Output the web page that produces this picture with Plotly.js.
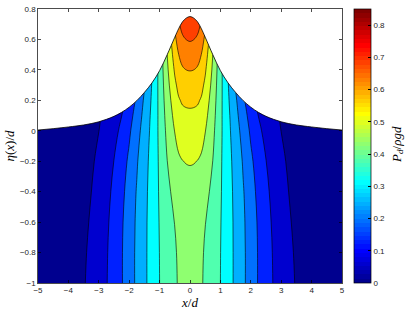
<!DOCTYPE html>
<html>
<head>
<meta charset="utf-8">
<script src="https://cdn.plot.ly/plotly-3.0.1.min.js"></script>
<style>html,body{margin:0;padding:0;background:#fff;}#chart{width:407px;height:312px;}</style>
</head>
<body>
<div id="chart"></div>
<script>
// ---- data (right half, x >= 0; the field is symmetric in x) ----
const xHalf = [0, 0.125, 0.25, 0.375, 0.5, 0.75, 1, 1.25, 1.5, 1.75, 2, 2.25, 2.5, 2.75, 3, 3.25, 3.5, 3.75, 4, 4.5, 5];
const yRows = [-1, -0.8, -0.6, -0.4, -0.2, 0, 0.1, 0.2, 0.3, 0.4, 0.5, 0.6, 0.7, 0.8];
// P_d/(rho g d) at (xHalf, yRows)
const pressureHalf = [
  [.462,.460,.454,.444,.426,.400,.375,.338,.300,.261,.222,.183,.150,.122,.099,.078,.058,.044,.034,.020,.011],
  [.463,.461,.456,.447,.430,.404,.376,.338,.300,.261,.222,.183,.149,.120,.095,.074,.055,.042,.033,.019,.010],
  [.469,.468,.463,.455,.439,.412,.378,.338,.299,.259,.219,.180,.146,.115,.089,.068,.051,.039,.031,.018,.009],
  [.482,.481,.477,.470,.455,.423,.381,.337,.296,.254,.212,.172,.138,.107,.081,.062,.047,.037,.029,.017,.008],
  [.503,.502,.499,.492,.476,.437,.384,.334,.290,.244,.199,.159,.126,.096,.072,.056,.043,.034,.027,.016,.007],
  [.533,.532,.529,.521,.502,.452,.388,.329,.278,.226,.178,.138,.107,.081,.062,.049,.039,.031,.025,.014,.005],
  [.552,.551,.548,.538,.517,.461,.389,.326,.269,.213,.164,.124,.094,.073,.057,.045,.037,.030,.024,.014,.005],
  [.574,.573,.569,.557,.533,.470,.391,.321,.259,.198,.147,.108,.080,.063,.051,.041,.035,.029,.023,.013,.004],
  [.599,.597,.592,.578,.551,.480,.393,.316,.245,.179,.128,.089,.064,.053,.046,.038,.032,.027,.022,.013,.004],
  [.627,.625,.618,.600,.570,.490,.395,.309,.229,.157,.105,.067,.046,.042,.040,.034,.030,.026,.021,.012,.003],
  [.658,.655,.646,.624,.590,.500,.397,.302,.210,.132,.079,.043,.025,.030,.034,.030,.028,.024,.020,.011,.002],
  [.692,.688,.676,.651,.612,.511,.399,.292,.187,.102,.050,.015,.003,.018,.028,.026,.026,.023,.019,.011,.002],
  [.730,.725,.710,.679,.634,.522,.401,.281,.160,.068,.016,-.016,-.023,.004,.021,.023,.024,.021,.018,.010,.001],
  [.771,.765,.746,.708,.658,.534,.404,.269,.129,.029,-.021,-.050,-.050,-.010,.015,.019,.021,.020,.017,.009,.001]
];
// free surface eta(x)/d at xHalf
const surfaceEta = [0.75,0.74,0.715,0.67,0.615,0.50,0.395,0.315,0.252,0.198,0.155,0.121,0.095,0.075,0.059,0.047,0.038,0.031,0.025,0.014,0.005];
const contourLevels = [0.0625, 0.125, 0.1875, 0.25, 0.3125, 0.375, 0.4375, 0.5, 0.5625, 0.625, 0.6875];
const xTicks = [-5,-4,-3,-2,-1,0,1,2,3,4,5];
const yTicks = [-1,-0.8,-0.6,-0.4,-0.2,0,0.2,0.4,0.6,0.8];
const cbarTicks = [0,0.1,0.2,0.3,0.4,0.5,0.6,0.7,0.8];
const cMin = 0, cMax = 0.85;

// ---- mirror the half tables to the full domain ----
const mirror = a => a.slice(1).reverse().concat(a);
const xFull = xHalf.slice(1).reverse().map(v => -v).concat(xHalf);
const zFull = pressureHalf.map(mirror);
const etaFull = mirror(surfaceEta);

// ---- MATLAB jet(64) colormap ----
function jet64() {
  const n = 64, m = 16, u = [];
  for (let j = 1; j <= m; j++) u.push(j / m);
  for (let j = 0; j < m - 1; j++) u.push(1);
  for (let j = m; j >= 1; j--) u.push(j / m);
  const cols = Array.from({length: n}, () => [0, 0, 0]);
  u.forEach((v, j) => {
    const gi = 8 + j + 1, ri = gi + m, bi = gi - m;
    if (gi >= 1 && gi <= n) cols[gi - 1][1] = v;
    if (ri >= 1 && ri <= n) cols[ri - 1][0] = v;
    if (bi >= 1 && bi <= n) cols[bi - 1][2] = v;
  });
  return cols.map(c => 'rgb(' + c.map(v => Math.round(v * 255)).join(',') + ')');
}
const jet = jet64();
const cbScale = [];
jet.forEach((c, i) => { cbScale.push([i / 64, c]); cbScale.push([(i + 1) / 64, c]); });

// band colours: each band takes the colour of its lower level (MATLAB contourf)
const bandLower = [0].concat(contourLevels);
const zTop = contourLevels[contourLevels.length - 1] + (contourLevels[1] - contourLevels[0]);
const nb = bandLower.length;
const bandScale = [];
bandLower.forEach((L, k) => {
  const idx = Math.min(63, Math.floor((L - cMin) / (cMax - cMin) * 64));
  bandScale.push([k / nb, jet[idx]]);
  bandScale.push([(k + 1) / nb, jet[idx]]);
});
const step = contourLevels[1] - contourLevels[0];

const traces = [
  {
    type: 'contour', x: xFull, y: yRows, z: zFull,
    zauto: false, zmin: 0, zmax: zTop,
    autocontour: false,
    contours: {start: contourLevels[0], end: contourLevels[contourLevels.length - 1], size: step, coloring: 'fill', showlines: true},
    line: {color: '#000', width: 0.6, smoothing: 1},
    colorscale: bandScale, showscale: false, hoverinfo: 'skip'
  },
  { // top edge for the white mask above the surface
    type: 'scatter', mode: 'lines', x: [-5, 5], y: [0.8, 0.8],
    line: {width: 0, color: 'rgba(0,0,0,0)'}, hoverinfo: 'skip', showlegend: false
  },
  { // free surface, white above it
    type: 'scatter', mode: 'lines', x: xFull, y: etaFull,
    fill: 'tonexty', fillcolor: '#ffffff',
    line: {color: '#000', width: 0.8, shape: 'spline', smoothing: 1},
    hoverinfo: 'skip', showlegend: false
  },
  { // colour bar carrier
    type: 'scatter', mode: 'markers', x: [-20], y: [-20],
    marker: {color: [0], cmin: cMin, cmax: cMax, colorscale: cbScale, showscale: true, size: 1,
      colorbar: {
        x: 1.04, xanchor: 'left', xpad: 0, ypad: 0, y: 0.5, yanchor: 'middle',
        len: 1, lenmode: 'fraction', thickness: 17, thicknessmode: 'pixels',
        outlinecolor: '#000', outlinewidth: 0.7,
        tickmode: 'array', tickvals: cbarTicks, ticktext: cbarTicks.map(String),
        ticks: 'inside', ticklen: 3, tickcolor: '#000',
        tickfont: {family: 'Liberation Sans, Arial, sans-serif', size: 8, color: '#262626'}
      }},
    hoverinfo: 'skip', showlegend: false
  }
];

const axisCommon = {
  showline: true, linecolor: '#000', linewidth: 0.7, mirror: 'ticks',
  ticks: 'inside', ticklen: 3, tickcolor: '#000', tickwidth: 0.7,
  showgrid: false, zeroline: false,
  tickfont: {family: 'Liberation Sans, Arial, sans-serif', size: 8, color: '#262626'}
};

const layout = {
  width: 407, height: 312,
  margin: {l: 38, r: 65, t: 9, b: 29, pad: 0},
  paper_bgcolor: '#fff', plot_bgcolor: '#fff',
  showlegend: false,
  xaxis: Object.assign({}, axisCommon, {
    range: [-5, 5], tickmode: 'array', tickvals: xTicks,
    title: {text: '<i>x</i>/<i>d</i>', font: {family: 'Liberation Serif, serif', size: 13, color: '#000'}, standoff: 3}
  }),
  yaxis: Object.assign({}, axisCommon, {
    range: [-1, 0.8], tickmode: 'array', tickvals: yTicks,
    title: {text: '<i>η</i>(<i>x</i>)/<i>d</i>', font: {family: 'Liberation Serif, serif', size: 13, color: '#000'}, standoff: 2}
  }),
  annotations: [{
    xref: 'paper', yref: 'paper', x: 1.182, y: 0.505, xanchor: 'center', yanchor: 'middle',
    text: '<i>P</i><sub><i>d</i></sub>/<i>ρgd</i>', textangle: -90, showarrow: false,
    font: {family: 'Liberation Serif, serif', size: 13, color: '#000'}
  }]
};

Plotly.newPlot('chart', traces, layout, {staticPlot: true, displayModeBar: false});
</script>
</body>
</html>
